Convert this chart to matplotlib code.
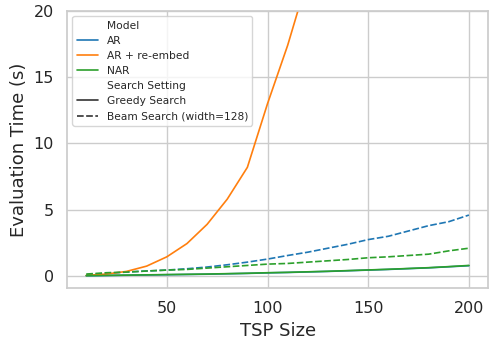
import matplotlib
matplotlib.use("Agg")
import matplotlib.pyplot as plt
import numpy as np
import pandas as pd
import seaborn as sns

sizes = [10, 20, 30, 40, 50, 60, 70, 80, 90, 100,
         110, 120, 130, 140, 150, 160, 170, 180, 190, 200]

# greedy search
ar_greedy = [0.02, 0.04, 0.06, 0.08, 0.1, 0.12, 0.14, 0.17, 0.2, 0.24,
             0.27, 0.31, 0.35, 0.4, 0.45, 0.5, 0.56, 0.62, 0.7, 0.78]
nar_greedy = [0.03, 0.05, 0.07, 0.09, 0.11, 0.13, 0.15, 0.18, 0.21, 0.25,
              0.28, 0.32, 0.36, 0.41, 0.46, 0.51, 0.57, 0.63, 0.71, 0.8]
reembed_sizes = [10, 20, 30, 40, 50, 60, 70, 80, 90, 100, 110, 120, 130]
reembed_greedy = [0.05, 0.15, 0.35, 0.75, 1.45, 2.45, 3.9, 5.8, 8.2, 13.0,
                  17.4, 22.5, 28.0]

# beam search (width=128)
ar_beam = [0.1, 0.2, 0.3, 0.38, 0.45, 0.55, 0.68, 0.85, 1.05, 1.28,
           1.55, 1.8, 2.1, 2.4, 2.75, 3.0, 3.4, 3.8, 4.1, 4.6]
nar_beam = [0.15, 0.25, 0.3, 0.38, 0.45, 0.5, 0.6, 0.7, 0.8, 0.9,
            0.95, 1.05, 1.15, 1.25, 1.38, 1.45, 1.55, 1.65, 1.9, 2.1]

rows = []
for name, setting, xs, ys in [
        ("AR", "Greedy Search", sizes, ar_greedy),
        ("AR + re-embed", "Greedy Search", reembed_sizes, reembed_greedy),
        ("NAR", "Greedy Search", sizes, nar_greedy),
        ("AR", "Beam Search (width=128)", sizes, ar_beam),
        ("NAR", "Beam Search (width=128)", sizes, nar_beam)]:
    for x, y in zip(xs, ys):
        rows.append({"TSP Size": x, "Evaluation Time (s)": y,
                     "Model": name, "Search Setting": setting})
df = pd.DataFrame(rows)

sns.set_theme(style="whitegrid")
plt.rcParams["font.family"] = ["DejaVu Sans"]
fig, ax = plt.subplots(figsize=(4.9, 3.4), dpi=100)
sns.lineplot(data=df, x="TSP Size", y="Evaluation Time (s)",
             hue="Model", style="Search Setting",
             hue_order=["AR", "AR + re-embed", "NAR"],
             style_order=["Greedy Search", "Beam Search (width=128)"],
             palette="tab10", linewidth=1.2, ax=ax)
ax.set_ylim(-0.9, 20)
ax.set_yticks([0, 5, 10, 15, 20])
ax.set_xticks([50, 100, 150, 200])
ax.tick_params(labelsize=11.5)
ax.set_xlabel("TSP Size", fontsize=13)
ax.set_ylabel("Evaluation Time (s)", fontsize=13)
ax.legend(loc="upper left", fontsize=7.7, labelspacing=0.48, handlelength=2.0)
fig.subplots_adjust(left=0.137, right=0.996, top=0.968, bottom=0.153)
fig.savefig("out.png")
